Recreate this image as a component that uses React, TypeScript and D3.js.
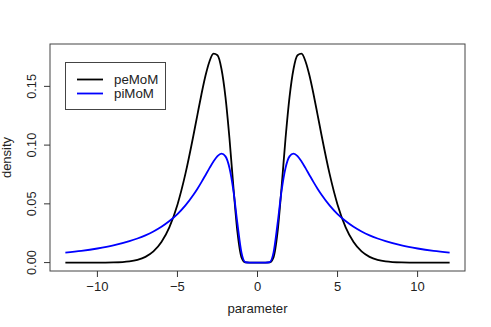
import React, { useEffect, useRef } from 'react';
import * as d3 from 'd3';

// parameter grid and densities
const xs = [-12, -11, -10, -9, -8, -7.5, -7, -6.5, -6, -5.5, -5, -4.5, -4, -3.75, -3.5, -3.25, -3, -2.75, -2.5, -2.25, -2, -1.75, -1.5, -1.25, -1, -0.75, -0.5, 0,
  0.5, 0.75, 1, 1.25, 1.5, 1.75, 2, 2.25, 2.5, 2.75, 3, 3.25, 3.5, 3.75, 4, 4.5, 5, 5.5, 6, 6.5, 7, 7.5, 8, 9, 10, 11, 12];
const peMoM = [0, 0, 0, 0.0002, 0.0011, 0.0024, 0.0049, 0.0095, 0.0175, 0.0302, 0.0493, 0.0757, 0.1084, 0.1260, 0.1433, 0.1590, 0.1712, 0.1778, 0.1765, 0.1648, 0.1409, 0.1056, 0.0635, 0.0256, 0.0045, 0.0001, 0, 0,
  0, 0.0001, 0.0045, 0.0256, 0.0635, 0.1056, 0.1409, 0.1648, 0.1765, 0.1778, 0.1712, 0.1590, 0.1433, 0.1260, 0.1084, 0.0757, 0.0493, 0.0302, 0.0175, 0.0095, 0.0049, 0.0024, 0.0011, 0.0002, 0, 0, 0];
const piMoM = [0.0085, 0.0100, 0.0120, 0.0146, 0.0182, 0.0205, 0.0232, 0.0265, 0.0305, 0.0354, 0.0413, 0.0487, 0.0577, 0.0629, 0.0685, 0.0744, 0.0804, 0.0861, 0.0907, 0.0928, 0.0904, 0.0805, 0.0608, 0.0329, 0.0085, 0.0003, 0, 0,
  0, 0.0003, 0.0085, 0.0329, 0.0608, 0.0805, 0.0904, 0.0928, 0.0907, 0.0861, 0.0804, 0.0744, 0.0685, 0.0629, 0.0577, 0.0487, 0.0413, 0.0354, 0.0305, 0.0265, 0.0232, 0.0205, 0.0182, 0.0146, 0.0120, 0.0100, 0.0085];

const xTicks = [-10, -5, 0, 5, 10];
const yTicks = [0, 0.05, 0.1, 0.15];
const seriesNames = ['peMoM', 'piMoM'];
const seriesColors = ['#000000', '#0000ff'];

const App = () => {
  const svgRef = useRef<SVGSVGElement>(null);

  useEffect(() => {
    const svg = d3.select(svgRef.current);
    svg.selectAll('*').remove();

    const left = 50, right = 465, top = 44, bottom = 271;
    const font = 'Liberation Sans, Arial, Helvetica, sans-serif';

    // R style 4% axis extension
    const xr = 24 * 0.04, yMax = 0.1789;
    const x = d3.scaleLinear().domain([-12 - xr, 12 + xr]).range([left, right]);
    const y = d3.scaleLinear().domain([-yMax * 0.04, yMax * 1.04]).range([bottom, top]);

    const line = d3.line<number>()
      .x((_, i) => x(xs[i]))
      .y(d => y(d))
      .curve(d3.curveMonotoneX);

    [peMoM, piMoM].forEach((vals, k) => {
      svg.append('path')
        .attr('d', line(vals))
        .attr('fill', 'none')
        .attr('stroke', seriesColors[k])
        .attr('stroke-width', 1.8);
    });

    svg.append('rect')
      .attr('x', left).attr('y', top)
      .attr('width', right - left).attr('height', bottom - top)
      .attr('fill', 'none').attr('stroke', '#444').attr('stroke-width', 1);

    // x axis
    xTicks.forEach(t => {
      svg.append('line')
        .attr('x1', x(t)).attr('x2', x(t))
        .attr('y1', bottom).attr('y2', bottom + 6)
        .attr('stroke', '#333');
      svg.append('text')
        .attr('x', x(t)).attr('y', 290.5)
        .attr('text-anchor', 'middle')
        .attr('font-family', font).attr('font-size', 13)
        .attr('fill', '#222')
        .text(t < 0 ? `\u2212${-t}` : `${t}`);
    });

    // y axis
    yTicks.forEach(t => {
      svg.append('line')
        .attr('x1', left - 6).attr('x2', left)
        .attr('y1', y(t)).attr('y2', y(t))
        .attr('stroke', '#333');
      svg.append('text')
        .attr('transform', `translate(35.7,${y(t)}) rotate(-90)`)
        .attr('text-anchor', 'middle')
        .attr('font-family', font).attr('font-size', 12.8)
        .attr('fill', '#222')
        .text(d3.format('.2f')(t));
    });

    svg.append('text')
      .attr('x', (left + right) / 2).attr('y', 313)
      .attr('text-anchor', 'middle')
      .attr('font-family', font).attr('font-size', 13.2)
      .attr('fill', '#222')
      .text('parameter');

    svg.append('text')
      .attr('transform', `translate(11,${(top + bottom) / 2}) rotate(-90)`)
      .attr('text-anchor', 'middle')
      .attr('font-family', font).attr('font-size', 13)
      .attr('fill', '#222')
      .text('density');

    // legend
    svg.append('rect')
      .attr('x', 65.5).attr('y', 62.5)
      .attr('width', 100).attr('height', 47)
      .attr('fill', 'white').attr('stroke', '#444');
    seriesNames.forEach((name, k) => {
      const ly = 79.5 + k * 14;
      svg.append('line')
        .attr('x1', 77).attr('x2', 103)
        .attr('y1', ly).attr('y2', ly)
        .attr('stroke', seriesColors[k]).attr('stroke-width', 1.8);
      svg.append('text')
        .attr('x', 114).attr('y', ly + 4.5)
        .attr('font-family', font).attr('font-size', 13.3)
        .attr('fill', '#222')
        .text(name);
    });
  }, []);

  return (
    <svg ref={svgRef} width={491} height={327}
      style={{ position: 'absolute', left: 0, top: 0, background: 'white' }} />
  );
};

export default App;
